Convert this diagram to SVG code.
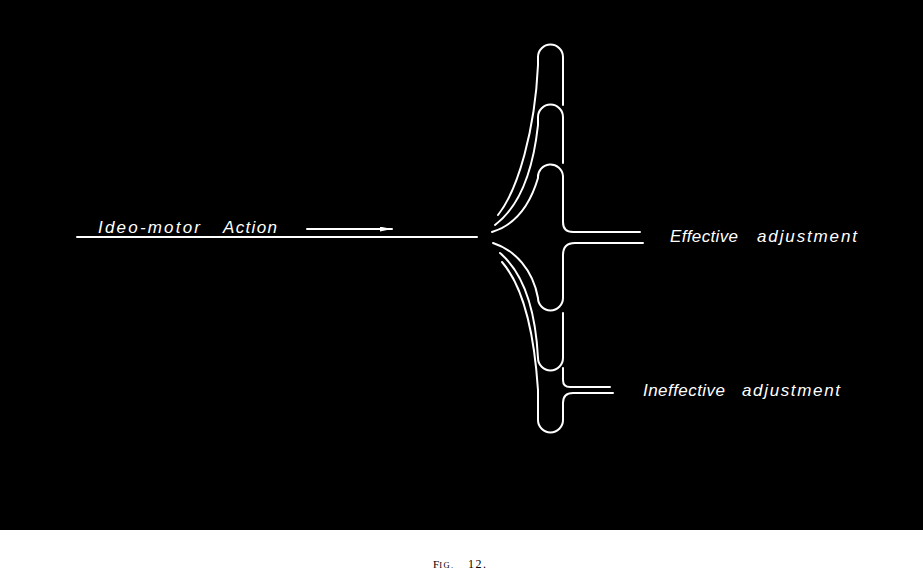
<svg xmlns="http://www.w3.org/2000/svg" width="923" height="585" viewBox="0 0 923 585">
<style>
.ln{fill:none;stroke:#fff;stroke-width:2;stroke-linecap:round;stroke-linejoin:round}
.lbl{fill:#fff;font-family:"Liberation Sans",Arial,sans-serif;font-style:italic;font-size:17px}
.cap{fill:#000;font-family:"Liberation Serif","Times New Roman",serif;font-size:11px}
</style>
<defs>
<marker id="ah" viewBox="0 0 10 4" refX="10" refY="2" markerWidth="12" markerHeight="5" markerUnits="userSpaceOnUse" orient="auto">
<path d="M0,0 L10,2 L0,4 Z" fill="#fff"/>
</marker>
</defs>
<rect x="0" y="0" width="923" height="530" fill="#000"/>
<rect x="0" y="530" width="923" height="55" fill="#fff"/>
<g id="connectors">
<path class="ln" d="M77,237 L477,237"/>
<path class="ln" d="M307,229 L392,229" marker-end="url(#ah)"/>
</g>
<g id="upper-branches">
<path class="ln" d="M498,215 C518,190 535,130 538,65 L538,57 A12.5,12.5 0 0 1 563,57 L563,105"/>
<path class="ln" d="M495,225 C515,210 532,180 538,125 L538,117 A12.5,12.5 0 0 1 563,117 L563,163"/>
<path class="ln" d="M492,232 C515,225 530,205 538,178 A12.5,12.5 0 0 1 563,176 L563,222 Q563,232 573,232 L640,232"/>
</g>
<g id="lower-branches">
<path class="ln" d="M493,243 C515,250 533,270 538,298 A12.5,12.5 0 0 0 563,298 L563,255 Q563,243 575,243 L643,243"/>
<path class="ln" d="M500,253 C520,270 535,300 538,358 A12.5,12.5 0 0 0 563,358 L563,313"/>
<path class="ln" d="M563,368 L563,380 Q563,387 570,387 L610,387"/>
<path class="ln" d="M502,262 C522,285 534,330 538,390 L538,420 A12.5,12.5 0 0 0 563,420 L563,403 Q563,393 573,393 L613,393"/>
</g>
<g id="label-ideomotor">
<text class="lbl" y="233"><tspan x="98" textLength="102" lengthAdjust="spacing">Ideo-motor</tspan><tspan x="223" textLength="54" lengthAdjust="spacing">Action</tspan></text>
</g>
<g id="label-effective">
<text class="lbl" y="242"><tspan x="670" textLength="68" lengthAdjust="spacing">Effective</tspan><tspan x="757" textLength="100" lengthAdjust="spacing">adjustment</tspan></text>
</g>
<g id="label-ineffective">
<text class="lbl" y="396"><tspan x="643" textLength="82" lengthAdjust="spacing">Ineffective</tspan><tspan x="742" textLength="98" lengthAdjust="spacing">adjustment</tspan></text>
</g>
<g id="caption">
<text class="cap" y="568"><tspan x="433">F</tspan><tspan font-size="8.5" letter-spacing="1.5">IG.</tspan><tspan x="468" font-size="12" letter-spacing="1.5">12.</tspan></text>
</g>
</svg>
